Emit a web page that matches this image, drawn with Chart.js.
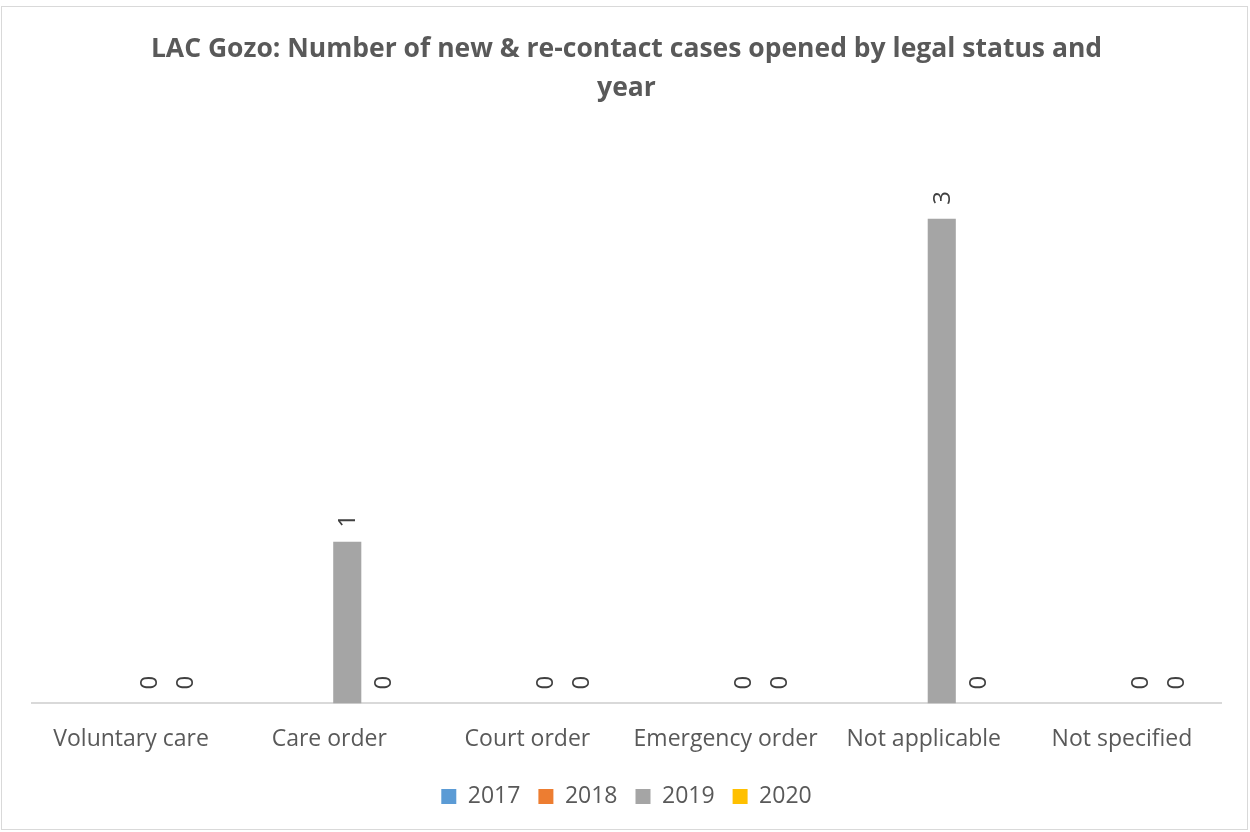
<!DOCTYPE html>
<html>
<head>
<meta charset="utf-8">
<script src="https://cdn.jsdelivr.net/npm/chart.js@4"></script>
<style>
  html, body { margin: 0; padding: 0; background: #fff; }
  #wrap { position: absolute; left: 0; top: 0; width: 1250px; height: 832px; }
</style>
</head>
<body>
<div id="wrap"><canvas id="chart" width="1250" height="832"></canvas></div>
<script>
const categories = ['Voluntary care', 'Care order', 'Court order', 'Emergency order', 'Not applicable', 'Not specified'];
const seriesNames = ['2017', '2018', '2019', '2020'];
const values2017 = [null, null, null, null, null, null];
const values2018 = [null, null, null, null, null, null];
const values2019 = [0, 1, 0, 0, 3, 0];
const values2020 = [0, 0, 0, 0, 0, 0];
const seriesColors = ['#5b9bd5', '#ed7d31', '#a5a5a5', '#ffc000'];

const FONT = "'Open Sans', 'Liberation Sans', sans-serif";

// rotated value labels above each bar (read bottom to top)
const valueLabels = {
    id: 'valueLabels',
    afterDatasetsDraw(chart) {
        const ctx = chart.ctx;
        ctx.save();
        ctx.fillStyle = '#404040';
        ctx.font = '24px ' + FONT;
        ctx.textBaseline = 'middle';
        chart.data.datasets.forEach((ds, i) => {
            const meta = chart.getDatasetMeta(i);
            meta.data.forEach((bar, j) => {
                const v = ds.data[j];
                if (v === null || v === undefined) return;
                ctx.save();
                ctx.translate(bar.x + 1, bar.y - 14);
                ctx.rotate(-Math.PI / 2);
                ctx.textAlign = 'left';
                ctx.fillText(String(v), 0, 0);
                ctx.restore();
            });
        });
        ctx.restore();
    }
};

const frame = {
    id: 'frame',
    beforeDraw(chart) {
        const ctx = chart.ctx;
        ctx.save();
        ctx.fillStyle = '#fff';
        ctx.fillRect(0, 0, chart.width, chart.height);
        ctx.strokeStyle = '#d9d9d9';
        ctx.lineWidth = 1;
        ctx.strokeRect(1.5, 6.5, 1246, 823);
        ctx.restore();
    }
};

const datasets = [values2017, values2018, values2019, values2020].map((vals, i) => ({
    label: seriesNames[i],
    data: vals,
    backgroundColor: seriesColors[i],
    borderWidth: 0,
    categoryPercentage: 0.727,
    barPercentage: 0.78
}));

new Chart(document.getElementById('chart').getContext('2d'), {
    type: 'bar',
    data: { labels: categories, datasets: datasets },
    plugins: [frame, valueLabels],
    options: {
        responsive: false,
        animation: false,
        layout: { padding: { left: 32, right: 29, top: 30, bottom: 14 } },
        scales: {
            x: {
                grid: { display: false },
                border: { display: true, color: '#d9d9d9', width: 2 },
                ticks: { color: '#595959', font: { family: FONT, size: 23 }, padding: 14, maxRotation: 0 }
            },
            y: {
                display: false,
                min: 0,
                max: 3.5
            }
        },
        plugins: {
            title: {
                display: true,
                text: ['LAC Gozo: Number of new & re-contact cases opened by legal status and', 'year'],
                color: '#595959',
                font: { family: FONT, size: 26.5, weight: 'bold', lineHeight: 1.47 },
                padding: { top: 0, bottom: 30 }
            },
            legend: {
                position: 'bottom',
                labels: {
                    color: '#595959',
                    font: { family: FONT, size: 23 },
                    boxWidth: 15,
                    boxHeight: 15,
                    padding: 18
                }
            },
            tooltip: { enabled: false }
        }
    }
});
</script>
</body>
</html>
